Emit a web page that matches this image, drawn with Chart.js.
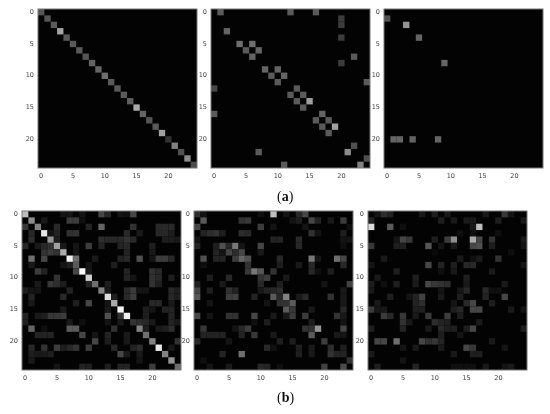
<!DOCTYPE html>
<html>
<head>
<meta charset="utf-8">
<script src="https://cdn.jsdelivr.net/npm/chart.js@4"></script>
<style>
  html, body { margin: 0; padding: 0; background: #fff; }
  body { width: 550px; height: 414px; position: relative; overflow: hidden; }
  canvas { position: absolute; filter: blur(0.45px); }
  .cap { position: absolute; font: 14px "Liberation Serif", serif; color: #111; }
</style>
</head>
<body>
<canvas id="a1"></canvas>
<canvas id="a2"></canvas>
<canvas id="a3"></canvas>
<canvas id="b1"></canvas>
<canvas id="b2"></canvas>
<canvas id="b3"></canvas>
<div class="cap" style="left:277px;top:189px">(<b>a</b>)</div>
<div class="cap" style="left:277px;top:390px">(<b>b</b>)</div>
<script>
var tickValues = [0, 5, 10, 15, 20];

// each row: column, grey level, column, grey level ...
var rowsA1 = [
  [0,85],[1,85],[2,90],[3,165],[4,90],[5,90],[6,90],[7,85],[8,100],[9,100],
  [10,110],[11,90],[12,90],[13,90],[14,95],[15,170],[16,100],[17,85],[18,90],[19,160],
  [20,50],[21,130],[22,80],[23,140],[24,75]
];
var rowsA2 = [
  [1,90,12,90,16,90], [20,60], [20,60], [2,100], [20,60],
  [4,110,6,110], [5,90,7,100], [6,100,22,90], [20,60], [8,100,10,100],
  [9,90,11,100], [10,90,24,90], [0,70,13,90], [12,90,14,90], [13,90,15,160],
  [14,90], [0,90,17,100], [16,90,18,90], [17,90,19,160], [18,90],
  [], [22,80], [7,90,21,140], [24,80], [11,90,23,130]
];
var rowsA3 = [
  [], [0,80], [3,150], [], [5,100], [], [], [], [9,100], [],
  [], [], [], [], [], [], [], [], [], [],
  [1,100,2,100,4,100,8,100], [], [], [], []
];
var rowsB1 = [
  [0,190,6,20,7,20,9,20,12,70,13,40,15,20,16,15,17,70],
  [1,140,3,25,7,60,8,60,9,15],
  [0,55,2,130,5,40,10,35,12,100,17,50,21,40,22,40,23,40],
  [1,40,3,230,4,20,5,35,7,50,8,50,16,40,18,25,21,40,22,40,23,30],
  [1,45,4,150,5,30,12,45,13,40,14,40,15,40,16,50,17,40,22,30,23,30,24,25],
  [0,40,2,25,3,40,4,50,5,160,6,25,8,20,10,60,12,35,15,35,16,40,20,30],
  [3,50,4,60,5,50,6,170,8,20,16,35,20,25],
  [1,110,3,70,7,240,8,110,11,25,15,35,16,40,18,80,20,20,21,60,22,60,23,40],
  [1,25,6,20,7,30,8,90,10,20,14,30],
  [2,60,3,35,8,70,9,250,10,25,16,35,20,50,21,40],
  [5,50,10,210,16,35,17,20,20,50,21,40,23,30],
  [2,25,4,55,5,45,6,30,10,35,11,110,13,30,20,50,21,30],
  [0,30,1,20,2,20,7,35,12,130,13,25,16,40,17,60,18,20,19,20,23,40,24,30],
  [1,35,6,40,13,220,14,30,16,40,17,60,23,40,24,30],
  [1,25,8,30,10,70,13,20,14,170,20,40,21,40,23,25],
  [6,25,13,25,15,245,19,30,20,20,22,35,23,35],
  [0,35,2,25,3,30,4,55,5,55,6,60,13,80,15,50,16,240,19,30,23,35],
  [0,30,7,25,9,15,13,20,15,25,17,50,18,45,19,40,20,25,23,35,24,25],
  [1,100,3,15,7,90,8,90,14,50,18,130,19,30,21,25,22,30,23,45],
  [2,35,3,35,4,35,9,70,11,20,13,35,16,25,19,110],
  [11,70,13,30,16,25,20,130,24,50],
  [1,40,3,50,5,60,6,30,7,40,8,50,10,60,14,40,17,35,18,45,21,235,23,25],
  [1,30,2,25,3,25,4,30,15,70,16,25,18,25,22,130],
  [1,25,18,20,23,150],
  [5,20,9,35,10,30,13,30,15,35,16,35,20,60,24,110]
];
var rowsB2 = [
  [0,45,1,20,10,15,12,190,14,20,16,40,17,70],
  [1,90,7,50,8,55,15,20,16,30,18,70,19,35,21,25,23,60],
  [0,70,10,60,12,20,17,20,24,15],
  [1,35,2,45,3,50,4,30,7,45,8,40,18,50,19,20,23,30],
  [0,20,12,35,13,35,16,40,23,20,24,20],
  [0,35,3,30,4,80,5,40,6,120,7,20,10,70,16,40,23,15],
  [3,35,4,20,5,70,6,45,7,70,10,25],
  [1,80,3,35,4,35,6,60,7,100,8,80,13,40,18,120,19,20,22,110,23,70],
  [1,15,8,50,13,30,16,25,18,40,23,40],
  [8,55,9,120,10,85,12,50,18,40,19,15,21,30],
  [2,30,5,40,10,50,11,60,14,25],
  [0,30,4,25,10,40,13,30,20,20,24,65],
  [0,70,2,30,5,50,6,35,10,25,11,35,12,40,13,45,23,25],
  [0,85,5,60,6,65,9,35,12,90,13,40,14,130,16,25,17,40,21,50,23,25],
  [2,20,11,20,13,50,14,50,15,90,23,25],
  [14,90,15,55,18,25,23,40],
  [0,70,2,20,5,50,6,50,9,70,12,25,14,25,15,60,17,60,22,50,23,25],
  [9,15,11,30,18,30,23,20],
  [1,55,6,20,7,40,8,60,17,50,18,50,19,150,23,70],
  [1,35,2,35,3,35,4,35,7,35,9,55,12,25,18,90,22,25,23,20],
  [0,40,5,20,13,30,15,30,20,60],
  [11,40,12,15,16,30,18,25,21,45,23,30],
  [4,35,7,110,16,30,18,25,21,50,22,35,23,35],
  [1,15,24,50],
  [2,20,5,25,10,40,11,35,13,15,20,65,23,75]
];
var rowsB3 = [
  [1,20,2,45,3,35,8,25,10,30,12,25,18,25,21,55,22,20],
  [0,35,11,30,13,25,15,25,16,25,20,30,24,25],
  [0,220,3,90,5,15,16,25,17,190],
  [14,15,16,15,20,15],
  [4,20,5,70,6,55,10,30,12,60,13,140,16,170,17,70,19,50,24,25],
  [0,55,4,30,5,30,9,85,11,20,13,25,16,70,17,80,19,30,24,20],
  [10,10,22,15],
  [2,25,14,25,16,15,17,25,20,50],
  [0,20,9,70,11,35,13,30,15,40,16,40,24,20],
  [4,30,11,15,13,25,19,25],
  [1,25,7,30,15,30],
  [0,30,2,15,4,30,7,25,9,70,10,55,11,50,12,45,15,25,21,25],
  [0,25,11,20,14,20,15,40,18,40,19,15,20,15],
  [3,30,6,20,7,35,8,65,11,25,14,30,18,35,21,70],
  [1,25,7,35,8,45,13,20,15,40,16,70,19,30],
  [0,60,1,25,2,25,7,30,8,30,13,30,14,40,16,70,17,70,22,25,24,20],
  [2,60,3,40,5,55,7,25,9,55,12,60,14,30],
  [5,50,6,25,10,45,11,35,12,30,17,25],
  [0,30,5,35,9,25,11,40,12,30,13,30,15,30,16,70,24,30],
  [11,30,14,20],
  [1,70,2,70,4,110,8,70,9,50,10,55,11,35,19,25],
  [5,20,7,25,11,25,15,70,16,55,21,20],
  [0,25,13,25,16,30,17,30],
  [5,20],
  [1,30,7,35,13,15,14,15,15,15,16,15,18,25,21,20,22,25]
];

function toPoints(rows) {
  var pts = [];
  rows.forEach(function(row, r) {
    for (var i = 0; i < row.length; i += 2) {
      pts.push({ x: row[i], y: r, v: row[i + 1] });
    }
  });
  return pts;
}

var frame = {
  id: 'frame',
  beforeDatasetsDraw: function(chart) {
    var a = chart.chartArea, c = chart.ctx;
    c.save();
    c.fillStyle = '#030303';
    c.fillRect(a.left, a.top, a.width, a.height);
    c.restore();
  },
  afterDatasetsDraw: function(chart) {
    var a = chart.chartArea, c = chart.ctx;
    c.save();
    c.strokeStyle = '#777';
    c.lineWidth = 1;
    c.strokeRect(a.left, a.top, a.width, a.height);
    c.restore();
  }
};

function makeAxis(reverse, fitKey, fitSize) {
  return {
    type: 'linear',
    min: -0.5,
    max: 24.5,
    reverse: reverse,
    grid: { display: false, drawTicks: true, tickLength: 3, tickColor: '#777' },
    border: { display: false },
    afterBuildTicks: function(scale) {
      scale.ticks = tickValues.map(function(v) { return { value: v }; });
    },
    afterFit: function(scale) {
      scale[fitKey] = fitSize;
    },
    ticks: {
      autoSkip: false,
      maxRotation: 0,
      padding: 1,
      color: '#444',
      font: { family: 'DejaVu Sans', size: 6.5 },
      callback: function(v) { return v; }
    }
  };
}

// left/top of each plot area
function makePanel(id, rows, left, top) {
  var size = 159, padL = 18, padT = 6, padB = 14, padR = 4;
  var canvas = document.getElementById(id);
  canvas.width = size + padL + padR;
  canvas.height = size + padT + padB;
  canvas.style.left = (left - padL) + 'px';
  canvas.style.top = (top - padT) + 'px';
  return new Chart(canvas.getContext('2d'), {
    type: 'scatter',
    data: {
      datasets: [{
        data: toPoints(rows),
        pointStyle: 'rect',
        borderWidth: 0,
        pointBorderWidth: 0,
        pointRadius: function(ctx) {
          var x = ctx.chart.scales.x;
          return Math.abs(x.getPixelForValue(1) - x.getPixelForValue(0)) * Math.SQRT1_2;
        },
        pointBackgroundColor: function(ctx) {
          var v = ctx.raw ? ctx.raw.v : 0;
          return 'rgb(' + v + ',' + v + ',' + v + ')';
        }
      }]
    },
    options: {
      responsive: false,
      animation: false,
      layout: { padding: { top: padT, right: padR, left: 0, bottom: 0 }, autoPadding: false },
      plugins: { legend: { display: false }, tooltip: { enabled: false } },
      scales: {
        x: makeAxis(false, 'height', padB),
        y: makeAxis(true, 'width', padL)
      }
    },
    plugins: [frame]
  });
}

makePanel('a1', rowsA1, 38, 9);
makePanel('a2', rowsA2, 211, 9);
makePanel('a3', rowsA3, 384, 9);
makePanel('b1', rowsB1, 22, 211);
makePanel('b2', rowsB2, 194, 211);
makePanel('b3', rowsB3, 368, 211);
</script>
</body>
</html>
